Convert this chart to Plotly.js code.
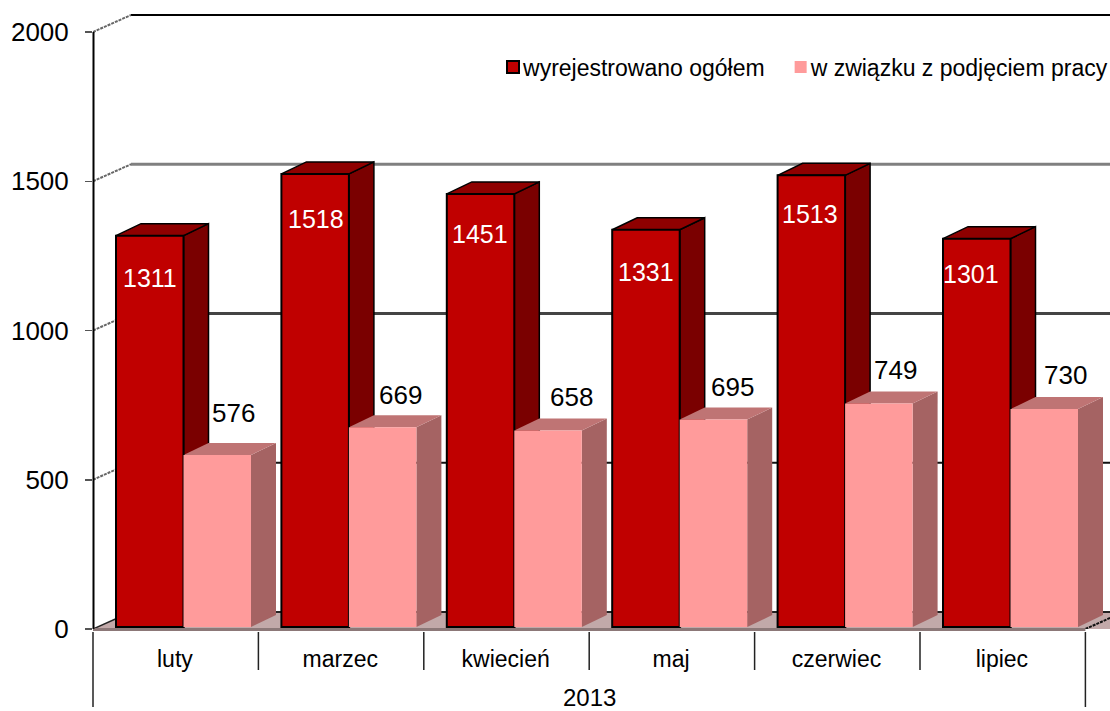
<!DOCTYPE html>
<html>
<head>
<meta charset="utf-8">
<script src="https://cdn.plot.ly/plotly-3.0.1.min.js"></script>
<style>html,body{margin:0;padding:0;background:#fff}#c{width:1110px;height:711px}</style>
</head>
<body>
<div id="c"></div>
<script>
const categories = ["luty","marzec","kwiecień","maj","czerwiec","lipiec"];
const groupLabel = "2013";
const seriesNames = ["wyrejestrowano ogółem","w związku z podjęciem pracy"];
const totalValues = [1311,1518,1451,1331,1513,1301];
const workValues = [576,669,658,695,749,730];
const yTicks = [0,500,1000,1500,2000];
// label offsets in pixels relative to the top of each bar
const totalLabelDrop = [42,45,40,42,39,35];
const totalLabelShift = [0,1,-1,0,-1,-6];
const workLabelRise = [42,32,34,33,33,34];
const workLabelShift = [16,18,23,19,17,21];

const catPx = 165.4, unitPx = 0.2985;
const px = d => d / catPx, py = d => d / unitPx;
const base = py(2), barW = px(67.5), start = px(23);
const depX = px(25), depY = py(12);
const wallX = px(38), wallY = py(17);
const xRange = [0, 1017 / catPx], yRange = [0, 629 / unitPx];
const xTotal = categories.map((_, i) => i + start + barW / 2);
const xWork = categories.map((_, i) => i + start + barW * 1.5);
const poly = pts => "M" + pts.map(p => p[0] + "," + p[1]).join("L") + "Z";
const gridColor = {500:"#111111",1000:"#444444",1500:"#808080",2000:"#000000"};
const papX = d => d / 1017, pap = d => -d / 629;

const shapes = [];
// floor
shapes.push({type:"path",layer:"below",xref:"x",yref:"y",
  path:poly([[0,0],[wallX,wallY],[xRange[1]+1,wallY],[xRange[1]+1,0]]),
  fillcolor:"#C2A9A9",line:{width:0}});
// back wall lines and connectors
yTicks.forEach(v => {
  if (v > 0) {
    shapes.push({type:"line",layer:"below",xref:"x",yref:"y",x0:wallX,x1:xRange[1],y0:v+wallY,y1:v+wallY,
      line:{color:gridColor[v],width:v===2000||v===500?2:3}});
    shapes.push({type:"line",layer:"below",xref:"x",yref:"y",x0:0,x1:wallX,y0:v,y1:v+wallY,
      line:{color:"#666666",width:2,dash:"3px,1px"}});
  }
});
shapes.push({type:"line",layer:"below",xref:"x",yref:"y",x0:wallX,x1:xRange[1],y0:wallY,y1:wallY,line:{color:"#222222",width:2}});
shapes.push({type:"line",layer:"below",xref:"x",yref:"y",x0:0,x1:wallX,y0:0,y1:wallY,line:{color:"#222222",width:1.5}});
shapes.push({type:"line",layer:"below",xref:"x",yref:"y",x0:6,x1:6+wallX,y0:0,y1:wallY,line:{color:"#111111",width:2,dash:"3px,1px"}});
// 3D faces of the bars, computed from the values
function faces(xs, vals, side, top, lineColor) {
  xs.forEach((xc, i) => {
    const l = xc - barW/2, r = xc + barW/2, t = vals[i] + base;
    const line = lineColor ? {color:lineColor,width:1.5} : {width:0};
    shapes.push({type:"path",layer:"below",xref:"x",yref:"y",
      path:poly([[r,base],[r+depX,base+depY],[r+depX,t+depY],[r,t]]),fillcolor:side,line});
    shapes.push({type:"path",layer:"below",xref:"x",yref:"y",
      path:poly([[l,t],[l+depX,t+depY],[r+depX,t+depY],[r,t]]),fillcolor:top,line});
  });
}
faces(xTotal,totalValues,"#7A0000","#8F0000","#000000");
faces(xWork,workValues,"#A56363","#BF7474",null);
// category separators below the axis
for (let i = 0; i <= 6; i++) {
  const outer = i === 0 || i === 6;
  shapes.push({type:"line",xref:"paper",yref:"paper",x0:papX(i*catPx),x1:papX(i*catPx),y0:pap(3),y1:pap(outer?78:41),
    line:{color:"#222222",width:1.5}});
}
// floor front edge and left axis
shapes.push({type:"line",xref:"paper",yref:"paper",x0:0,x1:papX(6*catPx),y0:pap(0.5),y1:pap(0.5),line:{color:"#8C7878",width:3}});
shapes.push({type:"line",xref:"paper",yref:"paper",x0:papX(0.5),x1:papX(0.5),y0:0,y1:597/629,line:{color:"#000000",width:2}});

const annotations = [];
categories.forEach((_, i) => {
  annotations.push({xref:"x",yref:"y",x:xTotal[i],y:totalValues[i]+base,text:String(totalValues[i]),showarrow:false,
    xshift:totalLabelShift[i],yshift:-totalLabelDrop[i],font:{color:"#ffffff",size:25,family:"Liberation Sans"}});
  annotations.push({xref:"x",yref:"y",x:xWork[i],y:workValues[i]+base,text:String(workValues[i]),showarrow:false,
    xshift:workLabelShift[i],yshift:workLabelRise[i],font:{color:"#000000",size:26,family:"Liberation Sans"}});
});
annotations.push({xref:"x",yref:"paper",x:3,y:pap(69),yanchor:"middle",text:groupLabel,showarrow:false,
  font:{color:"#000000",size:24,family:"Liberation Sans"}});

const traces = [
  {type:"bar",name:seriesNames[0],x:xTotal,y:totalValues,base:base,width:barW,
   marker:{color:"#C00000",line:{color:"#000000",width:2}},hoverinfo:"skip"},
  {type:"bar",name:seriesNames[1],x:xWork,y:workValues,base:base,width:barW,
   marker:{color:"#FF9B9B",line:{width:0}},hoverinfo:"skip"}
];
const layout = {
  width:1110,height:711,margin:{l:93,r:0,t:0,b:82,pad:0,autoexpand:false},
  paper_bgcolor:"#ffffff",plot_bgcolor:"#ffffff",barmode:"overlay",
  font:{family:"Liberation Sans",color:"#000000"},
  xaxis:{range:xRange,tickmode:"array",tickvals:categories.map((_,i)=>i+0.495),ticktext:categories,
    ticks:"",showgrid:false,zeroline:false,showline:false,ticklabelstandoff:14,
    tickangle:0,tickfont:{size:23,family:"Liberation Sans"}},
  yaxis:{range:yRange,tickmode:"array",tickvals:yTicks,ticktext:yTicks.map(String),
    ticks:"outside",ticklen:7,tickwidth:1.5,tickcolor:"#555555",showgrid:false,zeroline:false,showline:false,
    ticklabelstandoff:11,tickfont:{size:26,family:"Liberation Sans"}},
  legend:{orientation:"h",x:0.3835,xanchor:"left",y:0.8935,yanchor:"middle",bgcolor:"rgba(0,0,0,0)",
    font:{size:23,family:"Liberation Sans"},
    itemclick:false,itemdoubleclick:false,traceorder:"normal"},
  showlegend:true,shapes,annotations
};
Plotly.newPlot("c",traces,layout,{displayModeBar:false,staticPlot:true}).then(() => {
  // keep the swatch close to its text, as in the reference
  document.querySelectorAll("#c .legend .legendsymbols").forEach(g => g.setAttribute("transform","translate(10,0)"));
});
</script>
</body>
</html>
